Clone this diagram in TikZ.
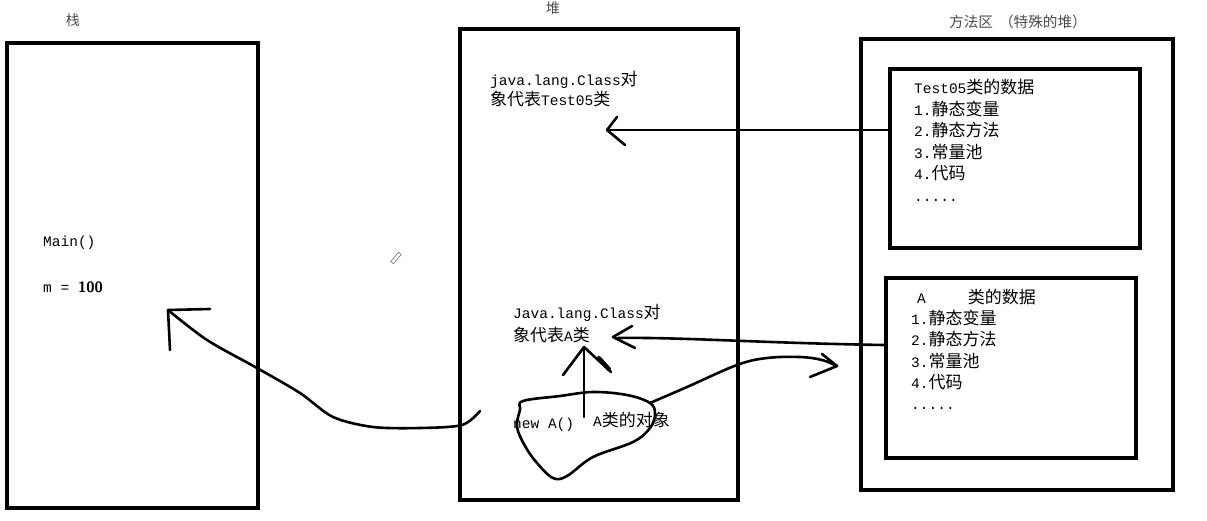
\documentclass[tikz,border=0pt]{standalone}
\usepackage{fontspec}
\setmonofont{Liberation Mono}
\newfontfamily\cjk[Scale=1.17]{Noto Sans CJK SC}
\newcommand\zh[1]{{\cjk #1}}
\begin{document}
\begin{tikzpicture}[x=1pt,y=-1pt,
  box/.style={draw, line width=3.5pt, inner sep=0pt},
  ink/.style={line width=2.6pt, line cap=round, line join=round},
  txt/.style={font={\ttfamily\fontsize{14.5}{21.5}\selectfont}, text=black, inner sep=0pt, align=left, anchor=north west},
  title/.style={font={\fontsize{12}{14}\selectfont\cjk}, text=black!70, inner sep=0pt}]
\useasboundingbox (0,0) rectangle (1207,520);
\fill[white] (0,0) rectangle (1207,520);

% boxes
\node[box, minimum width=251pt, minimum height=465pt] (stack) at (132.5,275.5) {};
\node[box, minimum width=278pt, minimum height=471pt] (heap) at (599,264.5) {};
\node[box, minimum width=312pt, minimum height=451pt] (marea) at (1017,264.5) {};
\node[box, minimum width=250pt, minimum height=179pt] (cls1) at (1015,158.5) {};
\node[box, minimum width=250pt, minimum height=180pt] (cls2) at (1011,368) {};

% titles
\node[title] (tstack) at (73,20) {栈};
\node[title] (theap) at (553,8) {堆};
\node[title, font={\fontsize{12.5}{14}\selectfont\cjk}] (tmarea) at (1018,22) {方法区\hspace{6pt}（特殊的堆）};

% stack text
\node[txt, anchor=west] (mainf) at (43,243) {Main()};
\node[txt, anchor=west] (mval) at (43,287) {m = {\sffamily\bfseries\fontsize{15}{15}\selectfont 100}};

% heap text
\node[txt, font={\ttfamily\fontsize{14.5}{20.5}\selectfont}] (obj1) at (490,71) {java.lang.Class\zh{对}\\\zh{象代表}Test05\zh{类}};
\node[txt, font={\ttfamily\fontsize{14.5}{23}\selectfont}] (obj2) at (513,304) {Java.lang.Class\zh{对}\\\zh{象代表}A\zh{类}};
\node[txt, anchor=west] (newa) at (513,425) {new A()};
\node[txt, anchor=west] (aobj) at (593,420) {A\zh{类的对象}};

% method area text
\node[txt] (d1) at (914,79) {Test05\zh{类的数据}\\1.\zh{静态变量}\\2.\zh{静态方法}\\3.\zh{常量池}\\4.\zh{代码}\\.....};
\node[txt, font={\ttfamily\fontsize{14.5}{21.2}\selectfont}] (d2) at (911,289) {\hspace*{6pt}A\hspace*{42pt}\zh{类的数据}\\1.\zh{静态变量}\\2.\zh{静态方法}\\3.\zh{常量池}\\4.\zh{代码}\\.....};

% pencil cursor
\node[draw=gray, fill=white, line width=0.7pt, rotate=50, minimum width=12pt, minimum height=3.5pt, inner sep=0pt] (pencil) at (396,258) {};

% arrow 1: Test05 data -> Class object
\coordinate (h1) at (607,130);
\draw[ink] (cls1.west |- h1) -- (h1);
\draw[ink] (h1) ++(10,-13) -- (h1) -- ++(18,15);

% arrow 2: A data -> Class object
\coordinate (h2) at (613,337);
\coordinate (e2) at (cls2.west |- 0,345);
\draw[ink] (e2) .. controls (760,343) and (680,337) .. (618,338);
\draw[ink] (h2) ++(19,-11) -- (h2) -- ++(22,11);

% blob around new A()
\draw[ink] plot[smooth cycle, tension=0.6] coordinates {(523,401) (560,396) (593,392) (627,395) (650,403) (655,414) (650,428) (633,442) (593,457) (567,476) (553,478) (537,463) (525,446) (517,427) (520,410)};

% upward arrow
\coordinate (u0) at (584,417);
\coordinate (u1) at (584,347);
\draw[ink] (u0) -- (u1);
\draw[ink] (u1) ++(-21,28) -- (u1) -- ++(27,25);
\draw[line width=4pt, line cap=round] (599,358) -- (609,369);

% wavy arrow to the right
\coordinate (r0) at (650,403);
\coordinate (r1) at (837,366);
\draw[ink] plot[smooth, tension=0.6] coordinates {(r0) (687,387) (737,365) (767,358) (800,357) (822,360) (r1)};
\draw[ink] (r1) ++(-15,-12) -- (r1) -- ++(-27,11);

% arrow back to the stack
\coordinate (s0) at (480,411);
\coordinate (s1) at (168,310);
\draw[ink] plot[smooth, tension=0.5] coordinates {(s0) (462,425) (420,428) (373,427) (333,417) (300,393) (257,368) (207,340) (s1)};
\draw[ink] (s1) ++(42,-1) -- (s1) -- ++(2,40);
\end{tikzpicture}
\end{document}
